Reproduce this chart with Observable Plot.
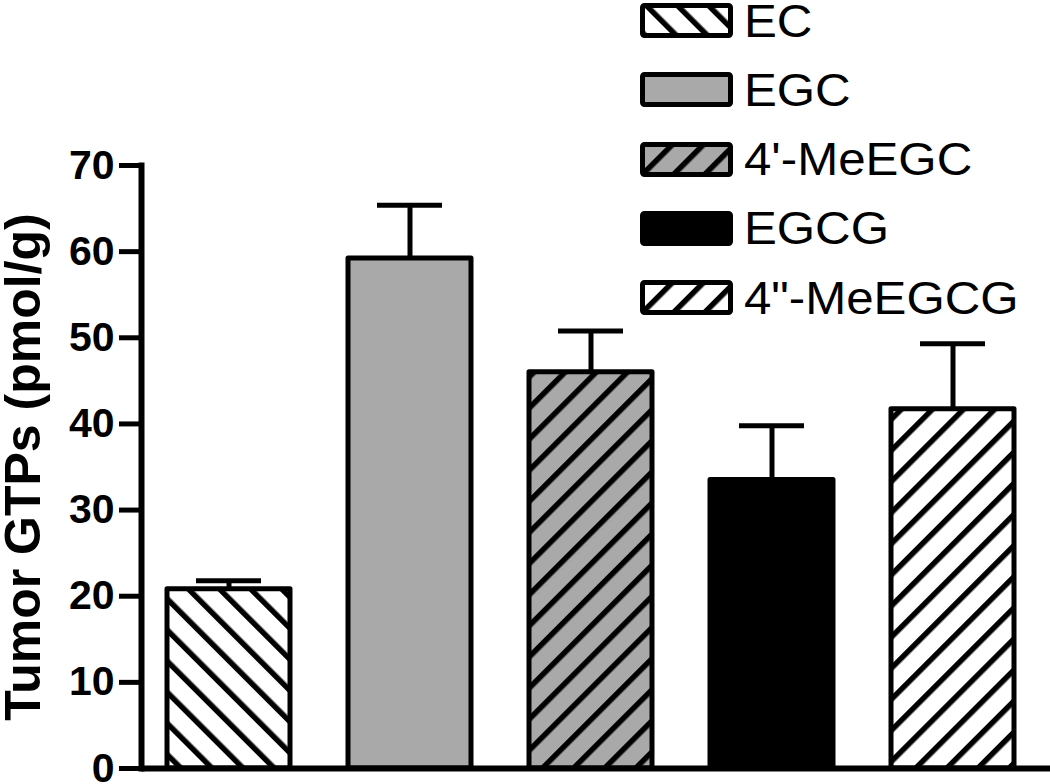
<!DOCTYPE html>
<html><head><meta charset="utf-8">
<script src="https://cdn.jsdelivr.net/npm/d3@7"></script>
<script src="https://cdn.jsdelivr.net/npm/@observablehq/plot@0.6"></script>
<style>
html,body{margin:0;padding:0;background:#fff;}
#wrap{position:relative;width:1050px;height:784px;font-family:"Liberation Sans",Arial,sans-serif;overflow:hidden;}
#legend{position:absolute;left:640px;top:0;}
.row{position:absolute;left:0;height:35px;display:flex;align-items:center;white-space:nowrap;}
.row svg{display:block;flex:none;}
.row span{display:inline-block;font-size:46px;margin-left:11px;color:#000;line-height:46px;transform:scaleX(1.07);transform-origin:left center;}
</style></head><body>
<svg width="0" height="0" style="position:absolute">
<defs>
<pattern id="pBack" patternUnits="userSpaceOnUse" width="22" height="22" patternTransform="rotate(-45)">
<rect width="22" height="22" fill="#fff"/><rect x="0" width="5.5" height="22" fill="#000"/>
</pattern>
<pattern id="pFwdGray" patternUnits="userSpaceOnUse" width="22" height="22" patternTransform="rotate(45)">
<rect width="22" height="22" fill="#a9a9a9"/><rect x="0" width="5.5" height="22" fill="#000"/>
</pattern>
<pattern id="pFwdWhite" patternUnits="userSpaceOnUse" width="22" height="22" patternTransform="rotate(45)">
<rect width="22" height="22" fill="#fff"/><rect x="0" width="5.5" height="22" fill="#000"/>
</pattern>
</defs></svg>
<div id="wrap"><div id="chart"></div><div id="legend"></div></div>
<script>
// Data
const categories = ["EC", "EGC", "4'-MeEGC", "EGCG", "4\"-MeEGCG"];
const means = [20.8, 59.2, 46.0, 33.5, 41.7];
const errors = [1.0, 6.2, 4.8, 6.3, 7.6];
const yTicks = [0, 10, 20, 30, 40, 50, 60, 70];
const yLabel = "Tumor GTPs (pmol/g)";
// Styles
const fills = ["url(#pBack)", "#a9a9a9", "url(#pFwdGray)", "#000000", "url(#pFwdWhite)"];

const data = categories.map((c, i) => ({cat: c, mean: means[i], upper: means[i] + errors[i]}));

const chart = Plot.plot({
  width: 1050, height: 784,
  marginTop: 165, marginBottom: 16, marginLeft: 141, marginRight: 0,
  style: {fontFamily: "'Liberation Sans', Arial, sans-serif", background: "#fff", color: "#000"},
  x: {domain: categories, axis: null, paddingInner: 0.32, paddingOuter: 0.16, align: 0.42},
  y: {domain: [0, 70]},
  color: {type: "ordinal", domain: categories, range: fills},
  marks: [
    Plot.ruleX(data, {x: "cat", y1: "mean", y2: "upper", stroke: "#000", strokeWidth: 5}),
    Plot.tickY(data, {x: "cat", y: "upper", stroke: "#000", strokeWidth: 5, insetLeft: 29, insetRight: 29}),
    Plot.barY(data, {x: "cat", y: "mean", fill: "cat", stroke: "#000", strokeWidth: 5, strokeLinejoin: "round"}),
    Plot.ruleY([0], {stroke: "#000", strokeWidth: 6}),
    Plot.frame({anchor: "left", stroke: "#000", strokeWidth: 6}),
    Plot.axisY({ticks: yTicks, tickSize: 22, tickPadding: 5, strokeWidth: 5, fontSize: 41, fontWeight: "bold", label: null}),
    Plot.text([yLabel], {frameAnchor: "left", dx: -137, rotate: -90, textAnchor: "middle", lineAnchor: "top", fontSize: 50, fontWeight: "bold", fill: "#000"})
  ]
});
document.getElementById("chart").append(chart);

// Legend
const legend = document.getElementById("legend");
categories.forEach((c, i) => {
  const row = document.createElement("div");
  row.className = "row";
  row.style.top = (3 + i * 69.3) + "px";
  row.innerHTML = `<svg width="93" height="35"><rect x="2.5" y="2.5" width="88" height="30" rx="2" fill="${fills[i]}" stroke="#000" stroke-width="5"/></svg><span>${c}</span>`;
  legend.append(row);
});
</script>
</body></html>
